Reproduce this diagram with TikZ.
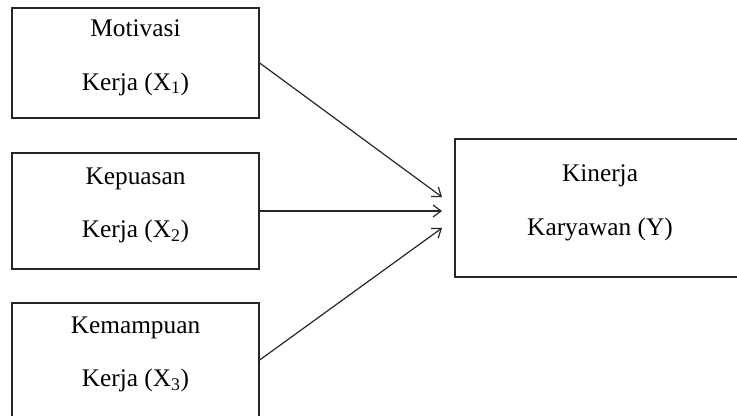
\documentclass[tikz,border=0pt]{standalone}
\usepackage{fontspec}
\setmainfont{Liberation Serif}
\usetikzlibrary{arrows.meta}
\newcommand{\lowstrut}{\rule[-12pt]{0pt}{0pt}}
\begin{document}
\begin{tikzpicture}[x=0.75pt,y=-0.75pt,
  varbox/.style={draw=black!85,line width=1pt,minimum width=247*0.75pt,
    align=center,inner sep=0pt,font=\fontsize{19}{40}\selectfont},
  arr/.style={draw=black!85,line width=0.9pt,-{Straight Barb[length=6pt,width=9pt]}}]
\useasboundingbox (0,0) rectangle (737,416);

\node[varbox,minimum height=110*0.75pt] (x1) at (135.5,63) {Motivasi\\Kerja (X\textsubscript{1})\lowstrut};
\node[varbox,minimum height=116*0.75pt] (x2) at (135.5,211) {Kepuasan\\Kerja (X\textsubscript{2})\lowstrut};
\node[varbox,minimum height=114*0.75pt] (x3) at (135.5,360) {Kemampuan\\Kerja (X\textsubscript{3})\lowstrut};
\node[varbox,minimum width=290*0.75pt,minimum height=138*0.75pt] (y) at (600,208) {Kinerja\\Karyawan (Y)\lowstrut};

\coordinate (in1) at (442,197);
\coordinate (in2) at (442,211);
\coordinate (in3) at (442,228);

\draw[arr] (x1.east) -- (in1);
\draw[arr] (x2.east) -- (in2);
\draw[arr] (x3.east) -- (in3);
\end{tikzpicture}
\end{document}
